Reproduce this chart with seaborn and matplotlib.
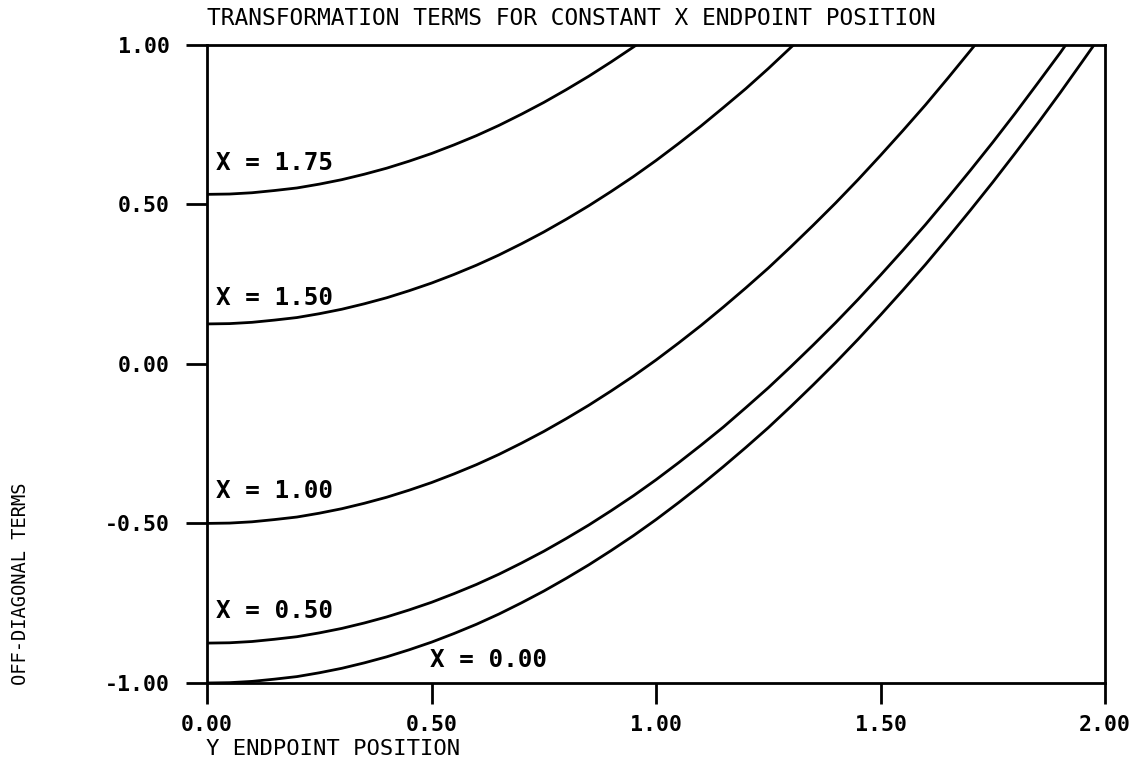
import matplotlib
matplotlib.use("Agg")
import matplotlib.pyplot as plt
import seaborn as sns
import pandas as pd

# ---- data ----
Y_POS = [0.00, 0.05, 0.10, 0.15, 0.20, 0.25, 0.30, 0.35, 0.40, 0.45,
         0.50, 0.55, 0.60, 0.65, 0.70, 0.75, 0.80, 0.85, 0.90, 0.95,
         1.00, 1.05, 1.10, 1.15, 1.20, 1.25, 1.30, 1.35, 1.40, 1.45,
         1.50, 1.55, 1.60, 1.65, 1.70, 1.75, 1.80, 1.85, 1.90, 1.95]

X175_VALS = [0.531, 0.532, 0.536, 0.543, 0.551, 0.563, 0.577, 0.594, 0.613, 0.635,
             0.659, 0.686, 0.715, 0.747, 0.782, 0.819, 0.859, 0.901, 0.946, 0.993]
X175_END = (0.957, 1.0)

X150_VALS = [0.125, 0.126, 0.130, 0.137, 0.145, 0.157, 0.171, 0.188, 0.207, 0.229,
             0.253, 0.280, 0.309, 0.341, 0.376, 0.413, 0.453, 0.495, 0.540, 0.587,
             0.637, 0.690, 0.745, 0.803, 0.862, 0.925, 0.991]
X150_END = (1.307, 1.0)

X100_VALS = [-0.500, -0.499, -0.495, -0.488, -0.480, -0.468, -0.454, -0.437, -0.418, -0.396,
             -0.372, -0.345, -0.316, -0.284, -0.249, -0.212, -0.172, -0.130, -0.085, -0.038,
             0.012, 0.065, 0.120, 0.178, 0.238, 0.300, 0.366, 0.434, 0.504, 0.577,
             0.653, 0.731, 0.811, 0.895, 0.981]
X100_END = (1.711, 1.0)

X050_VALS = [-0.875, -0.874, -0.870, -0.863, -0.855, -0.843, -0.829, -0.812, -0.793, -0.771,
             -0.747, -0.720, -0.691, -0.659, -0.624, -0.587, -0.547, -0.505, -0.460, -0.413,
             -0.363, -0.310, -0.255, -0.198, -0.137, -0.075, -0.009, 0.059, 0.129, 0.202,
             0.278, 0.356, 0.436, 0.520, 0.606, 0.694, 0.785, 0.879, 0.974]
X050_END = (1.913, 1.0)

X000_VALS = [-1.000, -0.999, -0.995, -0.988, -0.980, -0.968, -0.954, -0.937, -0.918, -0.896,
             -0.872, -0.845, -0.816, -0.784, -0.749, -0.712, -0.672, -0.630, -0.585, -0.538,
             -0.488, -0.435, -0.380, -0.322, -0.262, -0.200, -0.134, -0.066, 0.004, 0.077,
             0.153, 0.231, 0.311, 0.395, 0.481, 0.569, 0.660, 0.753, 0.849, 0.948]
X000_END = (1.976, 1.0)

CURVE_NAMES = ["X = 1.75", "X = 1.50", "X = 1.00", "X = 0.50", "X = 0.00"]
LABEL_POS = [(0.020, 0.630), (0.020, 0.206), (0.020, -0.400), (0.020, -0.775), (0.497, -0.928)]

X_TICKS = [0.0, 0.5, 1.0, 1.5, 2.0]
X_TICK_LABELS = ["0.00", "0.50", "1.00", "1.50", "2.00"]
Y_TICKS = [-1.0, -0.5, 0.0, 0.5, 1.0]
Y_TICK_LABELS = ["-1.00", "-0.50", "0.00", "0.50", "1.00"]

TITLE = "TRANSFORMATION TERMS FOR CONSTANT X ENDPOINT POSITION"
XLABEL = "Y ENDPOINT POSITION"
YLABEL = "OFF-DIAGONAL TERMS"

# ---- build long table ----
rows = []
for name, vals, end in zip(CURVE_NAMES,
                           [X175_VALS, X150_VALS, X100_VALS, X050_VALS, X000_VALS],
                           [X175_END, X150_END, X100_END, X050_END, X000_END]):
    for i, v in enumerate(vals):
        rows.append({"curve": name, "y": Y_POS[i], "term": v, "order": i})
    rows.append({"curve": name, "y": end[0], "term": end[1], "order": len(vals)})
df = pd.DataFrame(rows)

sns.set_theme(style="white")
plt.rcParams["font.family"] = ["DejaVu Sans Mono", "DejaVu Sans"]

fig = plt.figure(figsize=(11.38, 7.70), dpi=100)
ax = fig.add_axes([0.182, 0.113, 0.789, 0.829])

sns.lineplot(data=df, x="y", y="term", hue="curve", units="curve", estimator=None,
             sort=False, palette=["black"] * len(CURVE_NAMES), legend=False,
             linewidth=2.0, ax=ax)

ax.set_xlim(0.0, 2.0)
ax.set_ylim(-1.0, 1.0)
ax.set_xticks(X_TICKS)
ax.set_xticklabels(X_TICK_LABELS, fontweight="bold", fontsize=15.5, color="black")
ax.set_yticks(Y_TICKS)
ax.set_yticklabels(Y_TICK_LABELS, fontweight="bold", fontsize=15.5, color="black")
ax.tick_params(axis="both", direction="out", length=15, width=2.0, color="black",
               bottom=True, left=True)
ax.tick_params(axis="x", pad=8)
ax.tick_params(axis="y", pad=12)
for s in ax.spines.values():
    s.set_linewidth(2.0)
    s.set_color("black")
ax.set_xlabel("")
ax.set_ylabel("")
ax.grid(False)

for name, (px, py) in zip(CURVE_NAMES, LABEL_POS):
    ax.text(px, py, name, fontsize=17.5, fontweight="bold", ha="left", va="center",
            color="black")

fig.text(0.182, 0.976, TITLE, fontsize=16.5, ha="left", va="center", color="black")
fig.text(0.181, 0.027, XLABEL, fontsize=16, ha="left", va="center", color="black")
fig.text(0.018, 0.111, YLABEL, fontsize=13.5, rotation=90, ha="center", va="bottom",
         color="black")

fig.savefig("out.png", dpi=100, facecolor="white")
